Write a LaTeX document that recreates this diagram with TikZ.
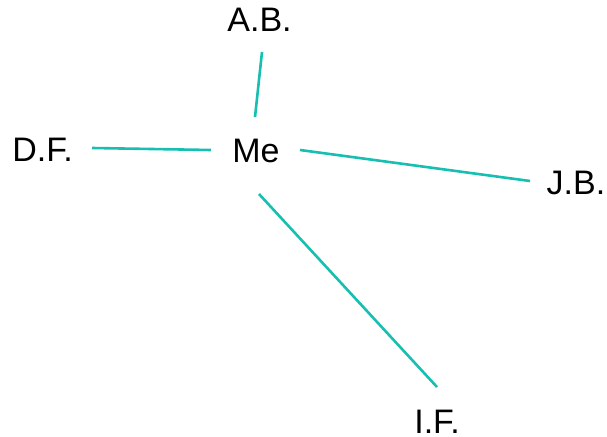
\documentclass[tikz,border=0pt]{standalone}
\usepackage{fontspec}
\setmainfont{Liberation Sans}
\definecolor{linkteal}{HTML}{17BFB1}
\begin{document}
\begin{tikzpicture}[x=1pt,y=-1pt,
  person/.style={inner sep=0pt, outer sep=0pt, anchor=center, font=\fontsize{34}{40}\selectfont},
  tie/.style={draw=linkteal, line width=2.6pt}]
  \useasboundingbox (0,0) rectangle (607,436);
  \node[person] (me) at (256,151) {Me};
  \node[person] (ab) at (259.5,20) {A.B.};
  \node[person] (df) at (42.5,150) {D.F.};
  \node[person] (jb) at (576,183) {J.B.};
  \node[person] (if) at (437,422) {I.F.};
  \path[tie] ([shift={(-1,-34)}]me.center) -- ([shift={(2.5,32)}]ab.center);
  \path[tie] ([shift={(49.5,-2)}]df.center) -- ([shift={(-45,-1)}]me.center);
  \path[tie] ([shift={(44,-1)}]me.center) -- ([shift={(-46,-2)}]jb.center);
  \path[tie] ([shift={(3,43)}]me.center) -- ([shift={(0,-35)}]if.center);
\end{tikzpicture}
\end{document}
